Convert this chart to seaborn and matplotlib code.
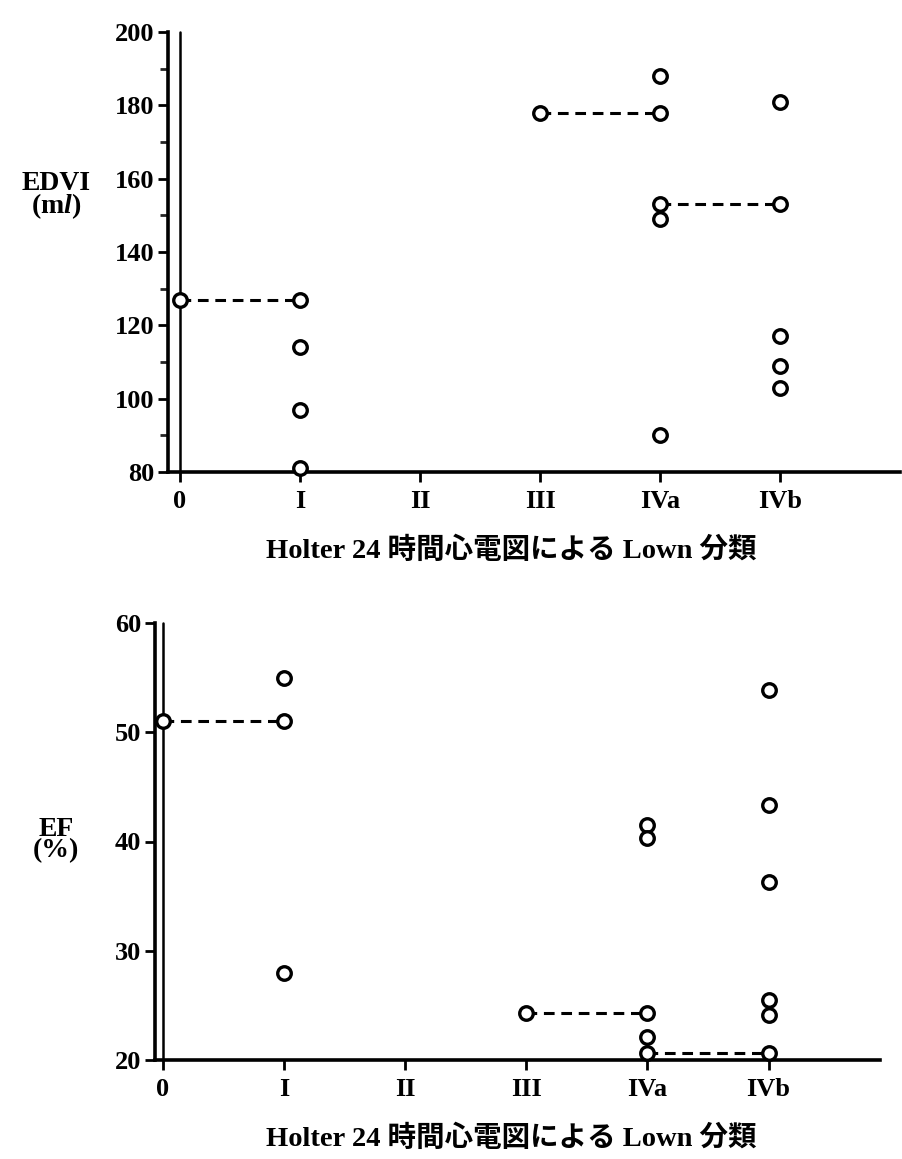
"""
Lown classification vs EDVI / EF, two stacked panels.
"""
import numpy as np
import pandas as pd
import seaborn as sns
import matplotlib.pyplot as plt
from matplotlib.ticker import MultipleLocator

# Categories on the x axis (Lown classes)
categories = ['0', 'I', 'II', 'III', 'IVa', 'IVb']

# Upper panel: EDVI (ml)
edvi_class = ['0', 'I', 'I', 'I', 'I',
              'III',
              'IVa', 'IVa', 'IVa', 'IVa', 'IVa',
              'IVb', 'IVb', 'IVb', 'IVb', 'IVb']
edvi_value = [127, 127, 114, 97, 81,
              178,
              188, 178, 153, 149, 90,
              181, 153, 117, 109, 103]
# dashed connections: (from class, to class, value)
edvi_links = [('0', 'I', 127), ('III', 'IVa', 178), ('IVa', 'IVb', 153)]

# Lower panel: EF (%)
ef_class = ['0', 'I', 'I', 'I',
            'III',
            'IVa', 'IVa', 'IVa', 'IVa', 'IVa',
            'IVb', 'IVb', 'IVb', 'IVb', 'IVb', 'IVb']
ef_value = [51, 55, 51, 28,
            24.3,
            41.5, 40.3, 24.3, 22.1, 20.6,
            53.9, 43.3, 36.3, 25.5, 24.1, 20.6]
ef_links = [('0', 'I', 51), ('III', 'IVa', 24.3), ('IVa', 'IVb', 20.6)]

XLABEL = 'Holter 24 時間心電図による Lown 分類'


def make_frame(cls, vals):
    return pd.DataFrame({'x': [categories.index(c) for c in cls], 'y': vals})


def draw_panel(ax, cls, vals, links, ylim, xlim, major, minor=None):
    df = make_frame(cls, vals)
    # dashed connectors
    for a, b, v in links:
        seg = pd.DataFrame({'x': [categories.index(a), categories.index(b)], 'y': [v, v]})
        sns.lineplot(data=seg, x='x', y='y', ax=ax, color='black', lw=2.2,
                     linestyle=(0, (3.5, 2.2)), zorder=2)
    # the second vertical line at class 0
    ax.plot([0, 0], ylim, color='black', lw=1.8, zorder=2, clip_on=False)
    sns.scatterplot(data=df, x='x', y='y', ax=ax, marker='o', s=95,
                    facecolor='white', edgecolor='black', linewidth=2.4,
                    zorder=4, clip_on=False)
    ax.set_xlim(*xlim)
    ax.set_ylim(*ylim)
    ax.set_xticks(range(len(categories)))
    ax.set_xticklabels(categories)
    ax.yaxis.set_major_locator(MultipleLocator(major))
    if minor:
        ax.yaxis.set_minor_locator(MultipleLocator(minor))
    ax.set_xlabel('')
    ax.set_ylabel('')
    for s in ['top', 'right']:
        ax.spines[s].set_visible(False)
    for s in ['left', 'bottom']:
        ax.spines[s].set_linewidth(2.6)
        ax.spines[s].set_color('black')
    ax.tick_params(axis='both', which='major', length=7, width=2.0,
                   labelsize=19, pad=3, colors='black')
    ax.tick_params(axis='x', pad=6)
    ax.tick_params(axis='y', which='minor', length=6, width=2.0)
    for lab in ax.get_xticklabels() + ax.get_yticklabels():
        lab.set_fontweight('bold')


def main():
    sns.set_style('ticks')
    plt.rcParams['font.family'] = ['Liberation Serif', 'Noto Sans CJK JP']
    plt.rcParams['mathtext.fontset'] = 'custom'
    plt.rcParams['mathtext.rm'] = 'Liberation Serif:bold'
    plt.rcParams['mathtext.it'] = 'Liberation Serif:italic:bold'

    W, H = 902, 1159
    fig = plt.figure(figsize=(W / 100, H / 100), dpi=100)
    fig.patch.set_facecolor('white')

    ax1 = fig.add_axes([168 / W, 1 - 472 / H, (900 - 168) / W, (472 - 32) / H])
    ax2 = fig.add_axes([155 / W, 1 - 1060 / H, (880 - 155) / W, (1060 - 623) / H])

    draw_panel(ax1, edvi_class, edvi_value, edvi_links, (80, 200), (-0.1, 6.0), 20, 10)
    draw_panel(ax2, ef_class, ef_value, ef_links, (20, 60), (-0.066, 5.92), 10)

    fig.text(56 / W, 1 - 196 / H, 'EDVI\n(m$\\mathit{l}$)', ha='center', va='center',
             fontsize=20, fontweight='bold', linespacing=0.8, color='black')
    fig.text(56 / W, 1 - 840 / H, 'EF\n(%)', ha='center', va='center',
             fontsize=20, fontweight='bold', linespacing=0.8, color='black')
    fig.text(511 / W, 1 - 550 / H, XLABEL, ha='center', va='center',
             fontsize=20.5, fontweight='bold', color='black')
    fig.text(511 / W, 1 - 1138 / H, XLABEL, ha='center', va='center',
             fontsize=20.5, fontweight='bold', color='black')

    fig.savefig('out.png', dpi=100, facecolor='white')


if __name__ == '__main__':
    main()
